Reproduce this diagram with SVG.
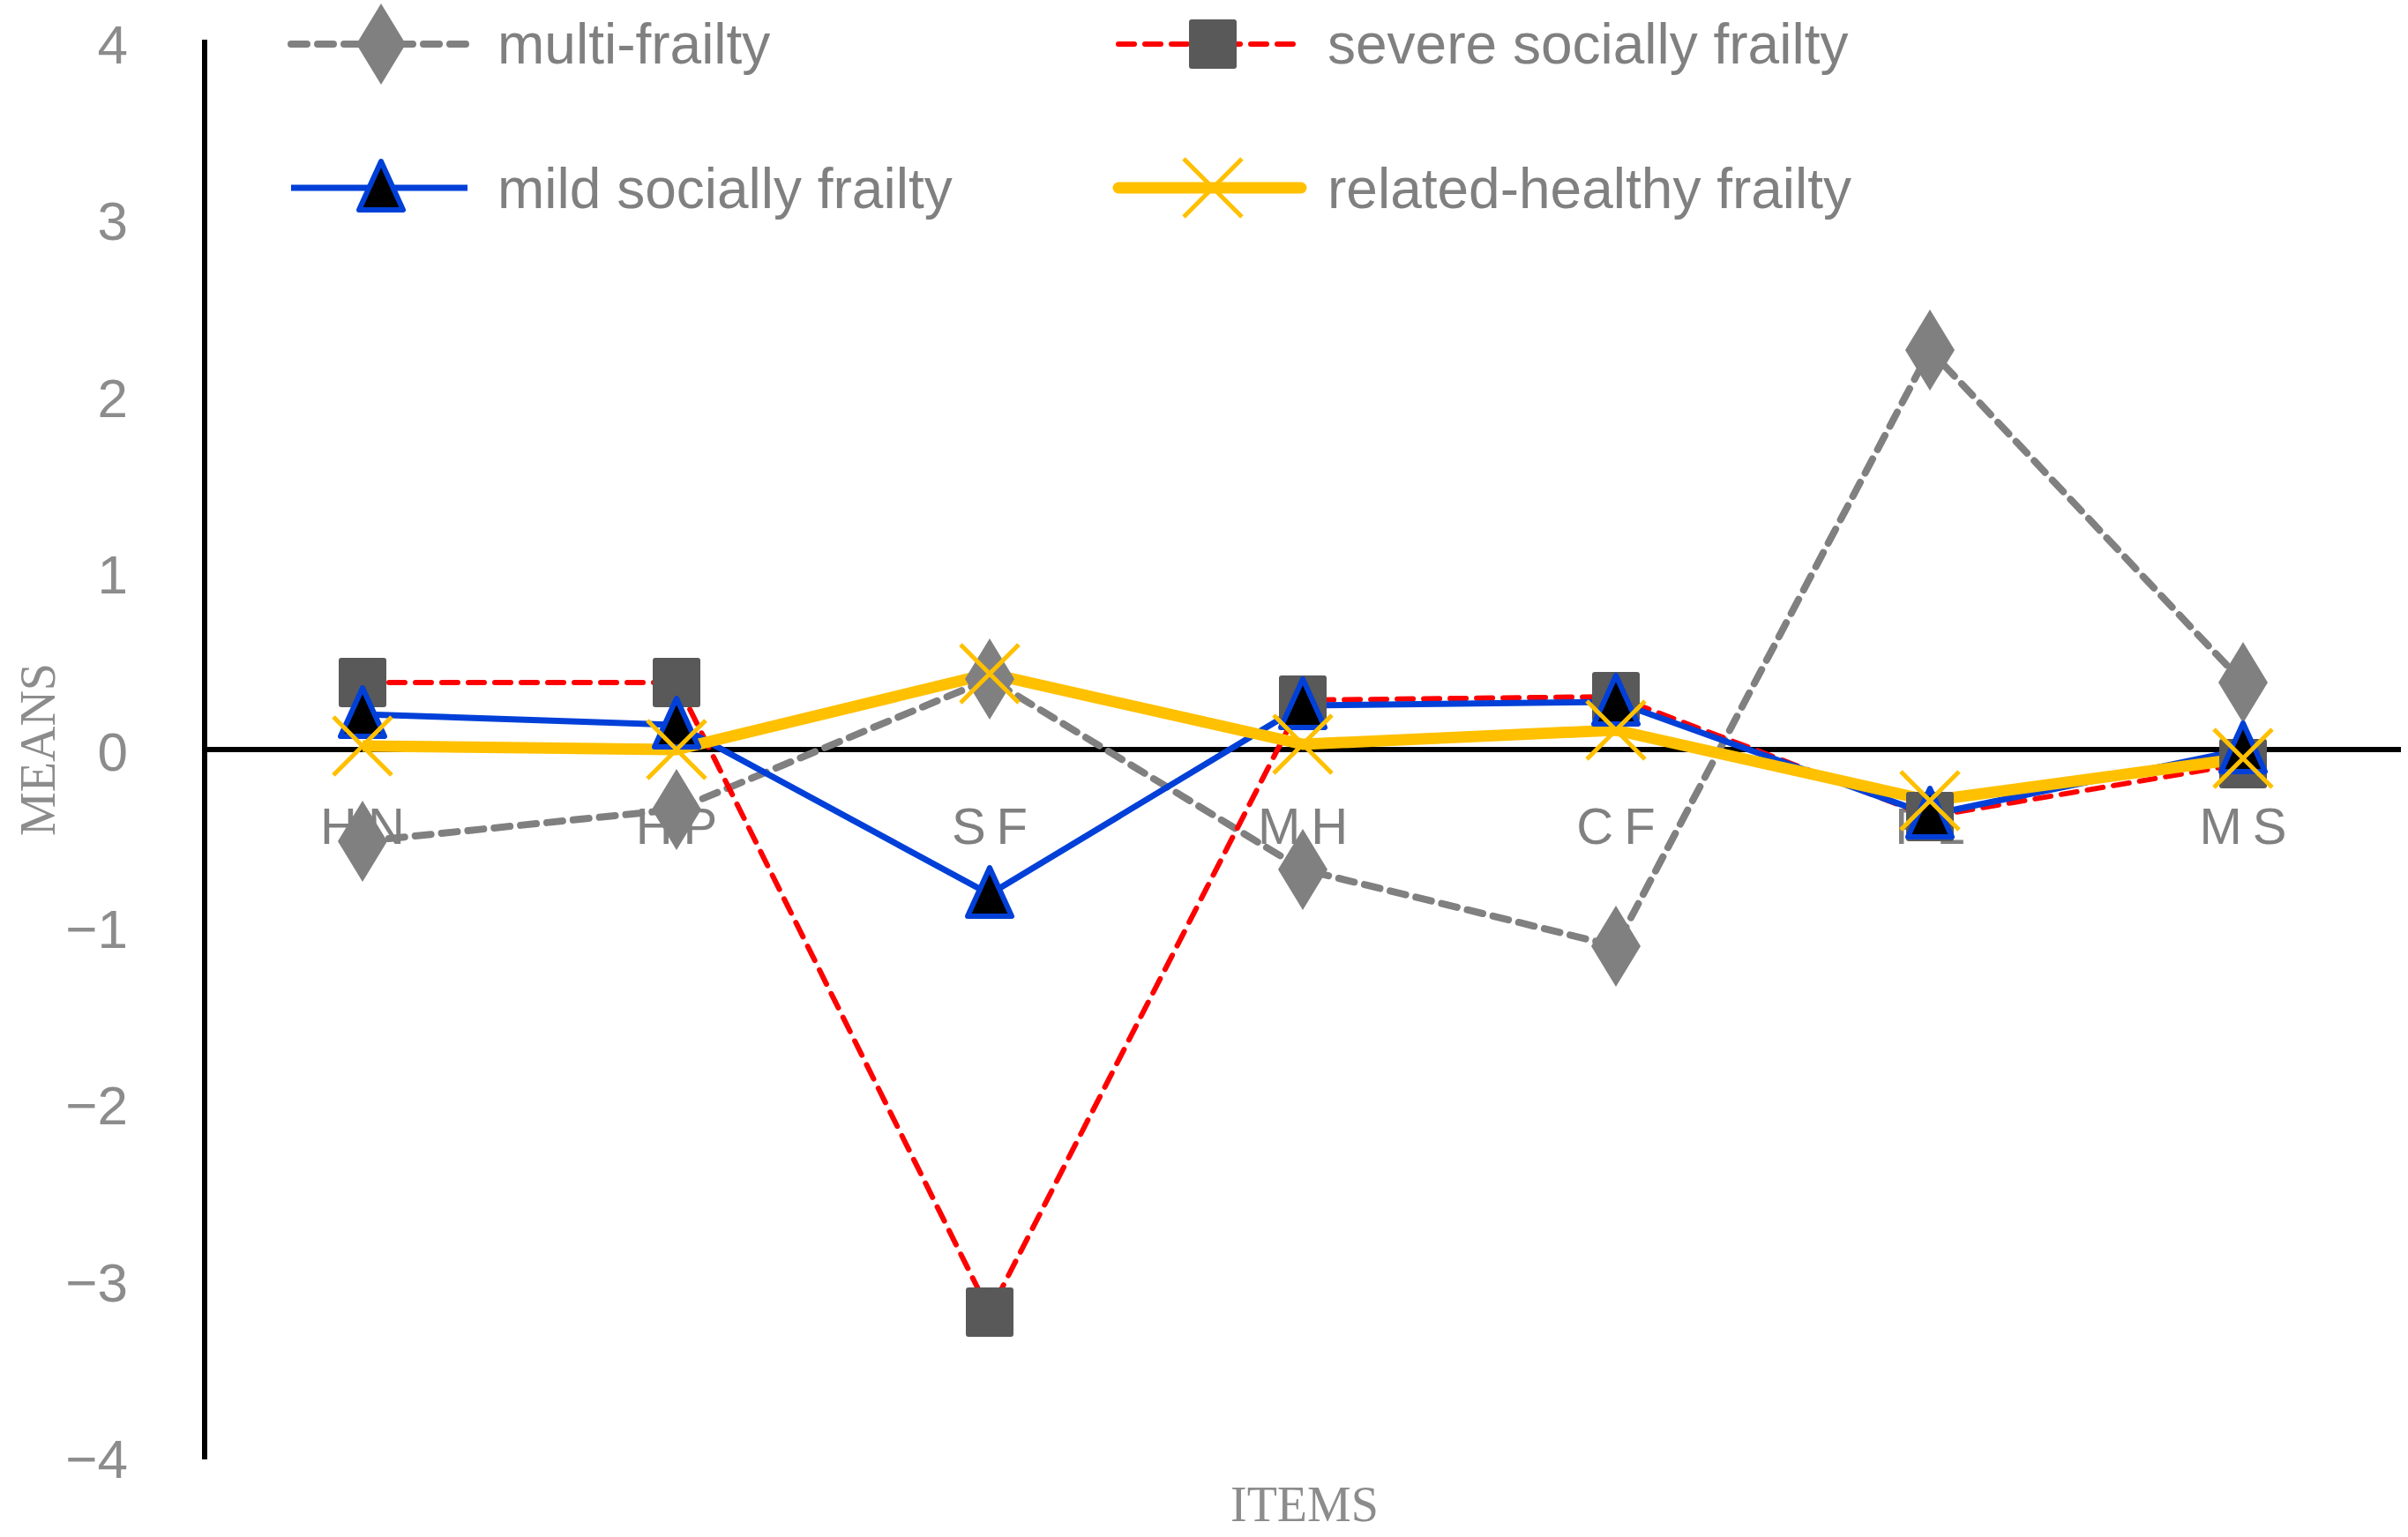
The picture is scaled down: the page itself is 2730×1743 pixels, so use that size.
<svg xmlns="http://www.w3.org/2000/svg" width="2730" height="1743" viewBox="0 0 2730 1743">
<style>
.tick{font-family:"Liberation Sans",Arial,sans-serif;font-size:62px;fill:#8c8c8c;text-anchor:end}
.cat{font-family:"Liberation Sans",Arial,sans-serif;font-size:58px;fill:#808080;text-anchor:middle;letter-spacing:12px}
.leg{font-family:"Liberation Sans",Arial,sans-serif;font-size:64px;fill:#808080}
.ttl{font-family:"Liberation Serif","Times New Roman",serif;font-size:56px;fill:#8c8c8c;text-anchor:middle}
.gray{fill:none;stroke:#808080;stroke-width:8;stroke-dasharray:18 12;stroke-linecap:round}
.red{fill:none;stroke:#ff0000;stroke-width:6;stroke-dasharray:18 12;stroke-linecap:round}
.blue{fill:none;stroke:#0040d8;stroke-width:7}
.yel{fill:none;stroke:#ffc000;stroke-width:13;stroke-linejoin:round}
</style>
<defs>
<path id="dia" d="M0,-46 L28,0 L0,46 L-28,0Z" fill="#808080"/>
<rect id="sq" x="-27" y="-28" width="54" height="56" rx="3" fill="#595959"/>
<path id="tri" d="M0,-30 L25,25 L-25,25Z" fill="#000" stroke="#0040d8" stroke-width="6" stroke-linejoin="round"/>
<path id="xx" d="M-33,-33 L33,33 M33,-33 L-33,33" stroke="#ffc000" stroke-width="5"/>
</defs>
<rect width="2730" height="1743" fill="#fff"/>
<g id="axes">
<line x1="232" y1="45" x2="232" y2="1655" stroke="#000" stroke-width="6"/>
<line x1="232" y1="850" x2="2722" y2="850" stroke="#000" stroke-width="6"/>
<text class="tick" x="145" y="72">4</text>
<text class="tick" x="145" y="272">3</text>
<text class="tick" x="145" y="473">2</text>
<text class="tick" x="145" y="673">1</text>
<text class="tick" x="145" y="874">0</text>
<text class="tick" x="145" y="1075">−1</text>
<text class="tick" x="145" y="1275">−2</text>
<text class="tick" x="145" y="1476">−3</text>
<text class="tick" x="145" y="1676">−4</text>
<text class="ttl" transform="translate(62,850) rotate(-90)">MEANS</text>
<text class="ttl" x="1479" y="1725">ITEMS</text>
</g>
<g id="categories">
<text class="cat" x="417" y="957">HN</text>
<text class="cat" x="773" y="957">HP</text>
<text class="cat" x="1128" y="957">SF</text>
<text class="cat" x="1483" y="957">MH</text>
<text class="cat" x="1838" y="957">CF</text>
<text class="cat" x="2194" y="957">FL</text>
<text class="cat" x="2549" y="957">MS</text>
</g>
<g id="connectors">
<polyline class="gray" points="411,954 767,918 1122,770 1477,986 1832,1073 2188,397 2543,774"/>
<polyline class="red" points="411,774 767,774 1122,1488 1477,794 1832,790 2188,926 2543,866"/>
<polyline class="blue" points="411,810 767,822 1122,1014 1477,800 1832,796 2188,924 2543,850"/>
<polyline class="yel" points="411,846 767,850 1122,764 1477,844 1832,828 2188,908 2543,860"/>
</g>
<g id="series-multi">
<use href="#dia" x="411" y="954"/><use href="#dia" x="767" y="918"/><use href="#dia" x="1122" y="770"/><use href="#dia" x="1477" y="986"/><use href="#dia" x="1832" y="1073"/><use href="#dia" x="2188" y="397"/><use href="#dia" x="2543" y="774"/>
</g>
<g id="series-severe">
<use href="#sq" x="411" y="774"/><use href="#sq" x="767" y="774"/><use href="#sq" x="1122" y="1488"/><use href="#sq" x="1477" y="794"/><use href="#sq" x="1832" y="790"/><use href="#sq" x="2188" y="926"/><use href="#sq" x="2543" y="866"/>
</g>
<g id="series-mild">
<use href="#tri" x="411" y="810"/><use href="#tri" x="767" y="822"/><use href="#tri" x="1122" y="1014"/><use href="#tri" x="1477" y="800"/><use href="#tri" x="1832" y="796"/><use href="#tri" x="2188" y="924"/><use href="#tri" x="2543" y="850"/>
</g>
<g id="series-related">
<use href="#xx" x="411" y="846"/><use href="#xx" x="767" y="850"/><use href="#xx" x="1122" y="764"/><use href="#xx" x="1477" y="844"/><use href="#xx" x="1832" y="828"/><use href="#xx" x="2188" y="908"/><use href="#xx" x="2543" y="860"/>
</g>
<g id="legend">
<line class="gray" x1="330" y1="50" x2="530" y2="50"/><use href="#dia" x="432" y="50"/>
<text class="leg" x="564" y="72">multi-frailty</text>
<line class="red" x1="1268" y1="50" x2="1475" y2="50"/><use href="#sq" x="1375" y="50"/>
<text class="leg" x="1505" y="72">severe socially frailty</text>
<line class="blue" x1="330" y1="213" x2="530" y2="213"/><use href="#tri" x="432" y="213"/>
<text class="leg" x="564" y="236">mild socially frailty</text>
<line class="yel" x1="1268" y1="213" x2="1475" y2="213" stroke-linecap="round"/><use href="#xx" x="1375" y="213"/>
<text class="leg" x="1505" y="236">related-healthy frailty</text>
</g>
</svg>
